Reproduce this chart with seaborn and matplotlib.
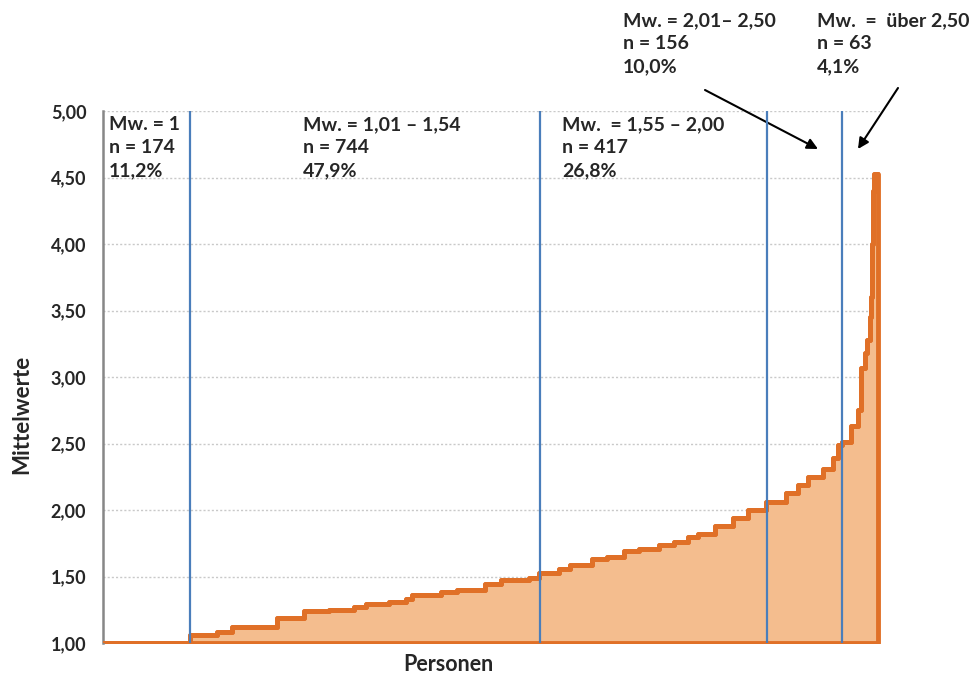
import numpy as np
import matplotlib
matplotlib.use('Agg')
import matplotlib.pyplot as plt
import seaborn as sns

# Mittelwerte je Stufe (sortiert) und Anzahl Personen pro Stufe
stufen_mw = [1.00, 1.06, 1.08, 1.12, 1.19, 1.24, 1.25, 1.27, 1.29, 1.31,
             1.33, 1.36, 1.38, 1.40, 1.44, 1.47, 1.49, 1.53, 1.56, 1.59,
             1.63, 1.65, 1.69, 1.71, 1.74, 1.76, 1.80, 1.82, 1.88, 1.94,
             2.00, 2.06, 2.13, 2.19, 2.25, 2.31, 2.39, 2.49, 2.51, 2.63,
             2.75, 3.07, 3.18, 3.28, 3.45, 3.60, 4.00, 4.40, 4.53]
stufen_n = [174, 54, 30, 90, 56, 50, 50, 24, 46, 34,
            12, 58, 32, 56, 32, 56, 20, 40, 22, 44,
            30, 34, 30, 40, 30, 30, 20, 34, 36, 30,
            36, 40, 24, 20, 30, 20, 10, 8, 18, 14,
            6, 8, 4, 6, 2, 2, 2, 2, 8]

# Position der senkrechten Trennlinien (Personen-Index)
grenzen_x = [174, 876, 1332, 1482]

# Beschriftungen der Gruppen
gruppen_text = [
    "Mw. = 1\nn = 174\n11,2%",
    "Mw. = 1,01 \u2013 1,54\nn = 744\n47,9%",
    "Mw.  = 1,55 \u2013 2,00\nn = 417\n26,8%",
    "Mw. = 2,01\u2013 2,50\nn = 156\n10,0%",
    "Mw.  =  \u00fcber 2,50\nn = 63\n4,1%",
]

y_ticks = [1.0, 1.5, 2.0, 2.5, 3.0, 3.5, 4.0, 4.5, 5.0]

orange = '#E07027'
fuellung = '#F4BD8E'
blau = '#4A7EBB'
grau = '#878787'

sns.set_style('white')
plt.rcParams['font.family'] = ['Lato', 'DejaVu Sans']

x_kanten = np.concatenate([[0], np.cumsum(stufen_n)])
y_kanten = np.array(stufen_mw + [stufen_mw[-1]])

fig = plt.figure(figsize=(9.73, 6.73), dpi=100)
ax = fig.add_axes([103 / 973, 1 - 643 / 673, 777 / 973, 532 / 673])

# Gitterlinien
for yv in y_ticks[1:]:
    ax.axhline(yv, color='#C9C9C9', lw=1.0, ls=(0, (1.5, 1.5)), zorder=0)

# Flaeche mit Umrandung
ax.fill_between(x_kanten, y_kanten, 1.0, step='post', facecolor=fuellung,
                edgecolor=orange, linewidth=3.5, zorder=2)
sns.lineplot(x=x_kanten, y=y_kanten, drawstyle='steps-post', color=orange,
             linewidth=3.5, ax=ax, zorder=3)

# Trennlinien
for gx in grenzen_x:
    ax.axvline(gx, ymin=0, ymax=1, color=blau, lw=1.6, zorder=4)

ax.set_xlim(0, x_kanten[-1] + 4)
ax.set_ylim(1.0, 5.0)
ax.set_xticks([])
ax.set_yticks(y_ticks)
ax.set_yticklabels([f"{v:.2f}".replace('.', ',') for v in y_ticks],
                   fontsize=13, fontweight='bold')
ax.tick_params(axis='y', direction='out', length=5, width=1.2, color=grau, pad=7)

for s in ['top', 'right', 'bottom']:
    ax.spines[s].set_visible(False)
ax.spines['left'].set_color(grau)
ax.spines['left'].set_linewidth(1.8)

ax.set_ylabel('Mittelwerte', fontsize=16, fontweight='bold', va='center')
ax.yaxis.set_label_coords(-0.105, 0.43)
ax.set_xlabel('Personen', fontsize=15.5, fontweight='bold', va='center')
ax.xaxis.set_label_coords((448 - 103) / 777, -0.04)

# Gruppentexte (Pixelpositionen im Bild, y von oben)
text_pos = [(109, 116), (303, 116), (562, 116), (623, 12), (817, 12)]
for (px, py), txt in zip(text_pos, gruppen_text):
    fig.text(px / 973, 1 - py / 673, txt, ha='left', va='top', fontsize=14,
             fontweight='bold', linespacing=1.42)

# Pfeile
pfeile = [((705, 90), (818, 149)), ((898, 88), (858, 149))]
for (x0, y0), (x1, y1) in pfeile:
    ax.annotate('', xy=(x1 / 973, 1 - y1 / 673), xycoords='figure fraction',
                xytext=(x0 / 973, 1 - y0 / 673), textcoords='figure fraction',
                arrowprops=dict(arrowstyle='-|>', color='black', lw=1.5,
                                mutation_scale=16, shrinkA=0, shrinkB=0),
                annotation_clip=False)

fig.savefig('out.png', dpi=100)
